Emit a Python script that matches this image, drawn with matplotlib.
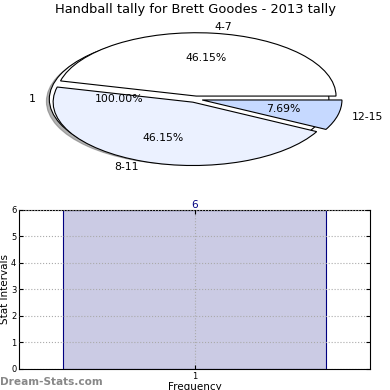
import matplotlib
matplotlib.use('Agg')
import matplotlib.pyplot as plt

# pie data
base_labels = ['1']
base_values = [1]
pie_labels = ['4-7', '8-11', '12-15']
pie_values = [6, 6, 1]
pie_colors = ['#ffffff', '#ebf1ff', '#c6d9ff']

# bar data
bar_labels = ['1']
bar_values = [6]

title_ = 'Handball tally for Brett Goodes - 2013 tally'


def plot():
    fig = plt.figure(figsize=(3.9, 3.9), dpi=100)

    # top: pie chart (squashed, like the original)
    ax1 = fig.add_axes([0.053, 0.5426, 0.896, 0.406])
    t1 = ax1.pie(base_values, labels=base_labels, autopct='%1.2f%%', colors=['#ffffff'],
                 shadow={'ox': -0.015, 'oy': -0.025, 'shade': 0.6}, center=(-0.045, 0),
                 pctdistance=0.5,
                 wedgeprops={'edgecolor': 'black', 'linewidth': 0.8})
    t2 = ax1.pie(pie_values, labels=pie_labels, autopct='%1.2f%%', colors=pie_colors,
                 explode=[0.05, 0.05, 0.05], center=(0, 0),
                 wedgeprops={'edgecolor': 'black', 'linewidth': 0.8})
    for txt in t1[1] + t1[2] + t2[1] + t2[2]:
        txt.set_fontsize(7.8)
    ax1.set_aspect('auto')
    ax1.set_xlim(-1.25, 1.25)
    ax1.set_ylim(-1.25, 1.25)
    ax1.set_title(title_, fontsize=9.4, pad=5)

    # bottom: bar chart
    ax2 = fig.add_axes([0.049, 0.054, 0.9, 0.408])
    x = [1 for _ in bar_values]
    bars = ax2.bar(x, bar_values, width=0.75, color='#cbcbe4', edgecolor='#000080',
                   linewidth=0.8, zorder=2)
    for b, v in zip(bars, bar_values):
        ax2.text(b.get_x() + b.get_width() / 2, v, str(v), ha='center', va='bottom',
                 color='#000080', fontsize=7.5)
    ax2.set_xlim(0.5, 1.5)
    ax2.set_ylim(0, 6)
    ax2.set_xticks(x)
    ax2.set_xticklabels(bar_labels)
    ax2.set_yticks(range(0, 7))
    ax2.grid(True, linestyle=':', color='#aaaaaa', linewidth=0.8, zorder=3)
    ax2.set_axisbelow(False)
    ax2.tick_params(direction='in', labelsize=6, length=3, top=True, right=True, pad=2)
    ax2.set_ylabel('Stat Intervals', fontsize=7.5, labelpad=1)
    ax2.set_xlabel('Frequency', fontsize=7.5, labelpad=1)

    fig.text(0.0, 0.013, 'Dream-Stats.com', color='#888888', fontsize=7.6, fontweight='bold')

    fig.savefig('out.png')


if __name__ == "__main__":
    plot()
